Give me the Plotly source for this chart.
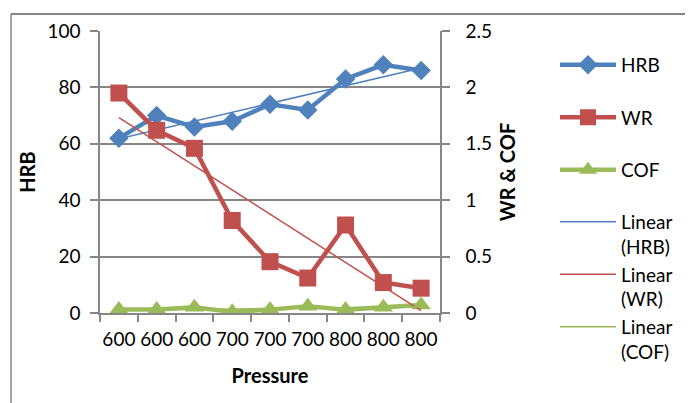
import numpy as np
import plotly.graph_objects as go

# ---- data ----
pressure_labels = ["600", "600", "600", "700", "700", "700", "800", "800", "800"]
hrb = [62, 70, 66, 68, 74, 72, 83, 88, 86]
wr = [1.95, 1.62, 1.46, 0.82, 0.455, 0.31, 0.78, 0.27, 0.22]
cof = [0.03, 0.03, 0.05, 0.01, 0.03, 0.06, 0.03, 0.05, 0.07]

x = list(range(1, len(pressure_labels) + 1))

BLUE = "#4F81BD"
RED = "#C0504D"
GREEN = "#9BBB59"
GRID = "#868686"
FONT = "Lato"

# page offset (browser body margin)
OFF = 8
L, T, PW, PH = 100 - OFF, 31 - OFF, 340, 282
W, H = 693, 403


def px_x(sx):
    return (sx - 100) / PW


def px_y(sy):
    return (313 - sy) / PH


def linfit(xs, ys):
    m, b = np.polyfit(xs, ys, 1)
    return [m * xi + b for xi in xs]


fig = go.Figure()
fig.add_trace(go.Scatter(x=x, y=hrb, name="HRB<br>\u00a0", mode="lines+markers",
                         line=dict(color=BLUE, width=4.5),
                         marker=dict(symbol="diamond", size=15, color=BLUE),
                         legend="legend", yaxis="y"))
fig.add_trace(go.Scatter(x=x, y=wr, name="WR<br>\u00a0", mode="lines+markers",
                         line=dict(color=RED, width=4.5),
                         marker=dict(symbol="square", size=17, color=RED),
                         legend="legend", yaxis="y2"))
fig.add_trace(go.Scatter(x=x, y=cof, name="COF<br>\u00a0", mode="lines+markers",
                         line=dict(color=GREEN, width=4.5),
                         marker=dict(symbol="triangle-up", size=17, color=GREEN),
                         legend="legend", yaxis="y2"))
fig.add_trace(go.Scatter(x=x, y=linfit(x, hrb), name="Linear<br>(HRB)", mode="lines",
                         line=dict(color=BLUE, width=1.5), legend="legend2", yaxis="y"))
fig.add_trace(go.Scatter(x=x, y=linfit(x, wr), name="Linear<br>(WR)", mode="lines",
                         line=dict(color=RED, width=1.5), legend="legend2", yaxis="y2"))
fig.add_trace(go.Scatter(x=x, y=linfit(x, cof), name="Linear<br>(COF)", mode="lines",
                         line=dict(color=GREEN, width=1.5), legend="legend2", yaxis="y2"))

legend_common = dict(xanchor="left", yanchor="top", itemwidth=56,
                     font=dict(family=FONT, size=19, color="black"),
                     valign="top", tracegroupgap=0, traceorder="normal",
                     bgcolor="rgba(0,0,0,0)")

fig.update_layout(
    width=W, height=H,
    margin=dict(l=L, r=W - L - PW, t=T, b=H - T - PH),
    paper_bgcolor="white", plot_bgcolor="white",
    font=dict(family=FONT, size=19, color="black"),
    showlegend=True,
    legend=dict(x=px_x(555), y=px_y(46), **legend_common),
    legend2=dict(x=px_x(555), y=px_y(203), **legend_common),
    xaxis=dict(range=[0.5, 9.5], tickmode="array", tickvals=x, ticktext=pressure_labels,
               showgrid=False, zeroline=False, showline=True, linecolor=GRID, linewidth=1.5,
               ticks="", tickfont=dict(size=19), ticklabelstandoff=8,
               minor=dict(tickmode="array", tickvals=[i + 0.5 for i in range(0, 10)],
                          ticks="outside", ticklen=7, tickcolor=GRID, tickwidth=1.5),
               title=dict(text="<b>Pressure</b>", font=dict(size=20), standoff=20)),
    yaxis=dict(range=[0, 100], dtick=20, showgrid=True, gridcolor=GRID, gridwidth=1.5,
               zeroline=False, showline=True, linecolor=GRID, linewidth=1.5,
               ticks="outside", ticklen=8, tickcolor=GRID, tickwidth=1.5,
               tickfont=dict(size=19), ticklabelstandoff=6,
               title=dict(text="<b>HRB</b>", font=dict(size=20), standoff=6)),
    yaxis2=dict(range=[0, 2.5], dtick=0.5, overlaying="y", side="right",
                showgrid=False, zeroline=False, showline=True, linecolor=GRID, linewidth=1.5,
                ticks="outside", ticklen=8, tickcolor=GRID, tickwidth=1.5,
                tickfont=dict(size=19), ticklabelstandoff=12,
                title=dict(text="<b>WR & COF</b>", font=dict(size=20), standoff=10)),
    shapes=[
        dict(type="line", xref="paper", yref="paper",
             x0=px_x(11), x1=px_x(692), y0=px_y(14), y1=px_y(14),
             line=dict(color=GRID, width=2), layer="above"),
        dict(type="line", xref="paper", yref="paper",
             x0=px_x(11), x1=px_x(11), y0=px_y(14), y1=px_y(410),
             line=dict(color=GRID, width=1.5), layer="above"),
    ],
)

fig.write_html("out.html")
